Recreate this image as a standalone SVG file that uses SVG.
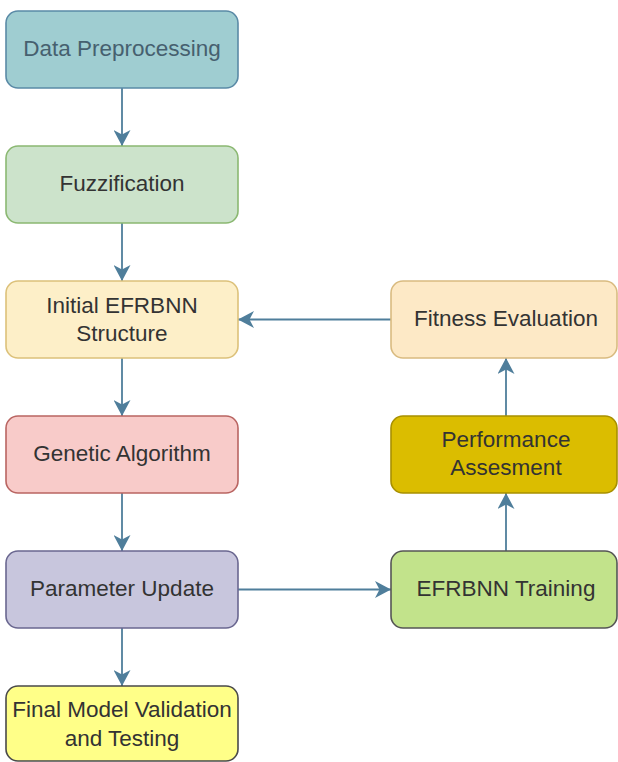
<svg xmlns="http://www.w3.org/2000/svg" width="618" height="762" viewBox="0 0 618 762">
<defs>
<style>
.box{stroke-width:1.6}
.lbl{font-family:"Liberation Sans",Arial,sans-serif;font-size:22.5px;text-anchor:middle;fill:#333333}
.edge{fill:none;stroke:#4f7e9b;stroke-width:1.8}
</style>
<marker id="arr" markerUnits="userSpaceOnUse" viewBox="0 0 16 17" markerWidth="16" markerHeight="17" refX="16" refY="8.5" orient="auto">
<path d="M0,0 L16,8.5 L0,17 L4.5,8.5 Z" fill="#4f7e9b"/>
</marker>
</defs>
<rect width="618" height="762" fill="#ffffff"/>
<g id="connectors">
<path class="edge" d="M122,88 V146" marker-end="url(#arr)"/>
<path class="edge" d="M122,223 V281" marker-end="url(#arr)"/>
<path class="edge" d="M122,358 V416" marker-end="url(#arr)"/>
<path class="edge" d="M122,493 V551" marker-end="url(#arr)"/>
<path class="edge" d="M122,628 V686" marker-end="url(#arr)"/>
<path class="edge" d="M391,319.5 H238" marker-end="url(#arr)"/>
<path class="edge" d="M238,589.5 H391" marker-end="url(#arr)"/>
<path class="edge" d="M506,551 V493" marker-end="url(#arr)"/>
<path class="edge" d="M506,416 V358" marker-end="url(#arr)"/>
</g>
<g id="data-preprocessing">
<rect class="box" x="6" y="11" width="232" height="77" rx="12" fill="#9fcdd1" stroke="#5a8aa6"/>
<text class="lbl" x="122" y="55.5" style="fill:#46606f">Data Preprocessing</text>
</g>
<g id="fuzzification">
<rect class="box" x="6" y="146" width="232" height="77" rx="12" fill="#cce3cb" stroke="#8bb872"/>
<text class="lbl" x="122" y="190.5">Fuzzification</text>
</g>
<g id="initial-structure">
<rect class="box" x="6" y="281" width="232" height="77" rx="12" fill="#fdefc8" stroke="#dcc17a"/>
<text class="lbl" x="122" y="313">Initial EFRBNN</text>
<text class="lbl" x="122" y="341">Structure</text>
</g>
<g id="genetic-algorithm">
<rect class="box" x="6" y="416" width="232" height="77" rx="12" fill="#f8cbc9" stroke="#b96562"/>
<text class="lbl" x="122" y="460.5">Genetic Algorithm</text>
</g>
<g id="parameter-update">
<rect class="box" x="6" y="551" width="232" height="77" rx="12" fill="#c8c6dd" stroke="#6a6790"/>
<text class="lbl" x="122" y="595.5">Parameter Update</text>
</g>
<g id="final-validation">
<rect class="box" x="6" y="686" width="232" height="75" rx="12" fill="#ffff88" stroke="#4a4a4a"/>
<text class="lbl" x="122" y="717">Final Model Validation</text>
<text class="lbl" x="122" y="746">and Testing</text>
</g>
<g id="fitness-evaluation">
<rect class="box" x="391" y="281" width="226" height="77" rx="12" fill="#fde9c6" stroke="#d9bb80"/>
<text class="lbl" x="506" y="325.5">Fitness Evaluation</text>
</g>
<g id="performance-assesment">
<rect class="box" x="391" y="416" width="226" height="77" rx="12" fill="#dbbd00" stroke="#a89000"/>
<text class="lbl" x="506" y="447">Performance</text>
<text class="lbl" x="506" y="475">Assesment</text>
</g>
<g id="efrbnn-training">
<rect class="box" x="391" y="551" width="226" height="77" rx="12" fill="#c2e38b" stroke="#555555"/>
<text class="lbl" x="506" y="595.5">EFRBNN Training</text>
</g>
</svg>
